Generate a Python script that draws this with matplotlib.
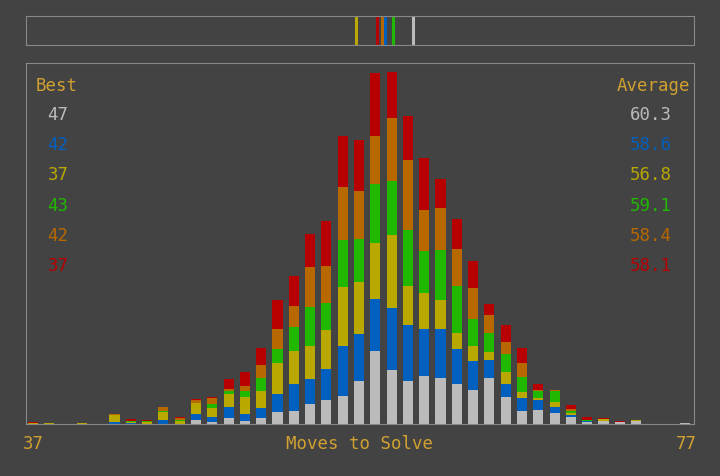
import numpy as np
import matplotlib.pyplot as plt

moves = np.arange(37, 78)
# per-series counts for each move count (37..77)
grey = [0,0,0,0,0,0,0,0,0,0,4,2,6,3,6,12,13,20,24,28,43,73,54,43,48,46,40,34,46,27,13,14,11,7,2,3,2,3,0,0,1]
blue = [0,0,0,0,0,2,1,0,4,0,6,5,11,7,10,18,27,25,31,50,47,52,62,56,47,49,35,29,18,13,13,10,6,2,1,0,0,0,0,0,0]
yellow = [1,1,0,1,0,7,1,2,8,3,11,9,13,17,17,31,33,33,39,59,52,56,73,39,36,29,16,15,8,12,6,2,5,2,0,2,0,1,0,0,0]
green = [0,0,0,0,0,0,1,1,1,1,0,4,3,6,13,14,24,39,27,47,43,59,54,56,42,50,47,27,19,18,15,7,11,2,1,0,0,0,0,0,0]
orange = [0,0,0,0,0,1,0,0,4,2,3,6,2,5,13,20,21,40,37,53,48,48,63,70,41,42,37,31,18,12,14,1,1,2,0,0,0,0,0,0,0]
red = [1,0,0,0,0,0,2,1,0,1,1,1,10,14,17,29,30,33,45,51,51,63,46,44,52,29,30,27,11,17,15,6,0,4,3,1,1,0,0,0,0]

names = ['grey', 'blue', 'yellow', 'green', 'orange', 'red']
colors = ['#bbbbbb', '#0060c0', '#b8a800', '#20b800', '#b86800', '#b80000']
best = ['47', '42', '37', '43', '42', '37']
average = [60.3, 58.6, 56.8, 59.1, 58.4, 58.1]

bg = '#434343'
gold = '#d0a030'
edge = '#888888'

fig = plt.figure(figsize=(7.2, 4.76), dpi=100, facecolor=bg)
W, H = 720, 476

def box(x0, y0, x1, y1):
    return [x0 / W, 1 - y1 / H, (x1 - x0) / W, (y1 - y0) / H]

xlim = (36.57, 77.55)

ax = fig.add_axes(box(26, 63, 694, 424))
ax.set_facecolor(bg)
bottom = np.zeros(len(moves))
for vals, c in zip([grey, blue, yellow, green, orange, red], colors):
    ax.bar(moves, vals, bottom=bottom, width=0.62, color=c, linewidth=0)
    bottom += np.array(vals)
ax.set_xlim(*xlim)
ax.set_ylim(0, 361)
ax.set_xticks([])
ax.set_yticks([])
for s in ax.spines.values():
    s.set_color(edge)

# strip with average markers
ax2 = fig.add_axes(box(26, 16, 694, 45))
ax2.set_facecolor(bg)
for a, c in zip(average, colors):
    ax2.axvline(a, color=c, linewidth=2.2)
ax2.set_xlim(*xlim)
ax2.set_xticks([])
ax2.set_yticks([])
for s in ax2.spines.values():
    s.set_color(edge)

font = dict(family='DejaVu Sans Mono', fontsize=12.5)
fig.text(57 / W, 1 - 86 / H, 'Best', color=gold, ha='center', va='center', **font)
fig.text(690 / W, 1 - 86 / H, 'Average', color=gold, ha='right', va='center', **font)
for i, c in enumerate(colors):
    y = 1 - (115 + i * 30.2) / H
    fig.text(58 / W, y, best[i], color=c, ha='center', va='center', **font)
    fig.text(651 / W, y, f'{average[i]:.1f}', color=c, ha='center', va='center', **font)

fig.text(33 / W, 1 - 444 / H, '37', color=gold, ha='center', va='center', **font)
fig.text(360 / W, 1 - 444 / H, 'Moves to Solve', color=gold, ha='center', va='center', **font)
fig.text(686 / W, 1 - 444 / H, '77', color=gold, ha='center', va='center', **font)

fig.savefig('out.png', dpi=100, facecolor=bg)
